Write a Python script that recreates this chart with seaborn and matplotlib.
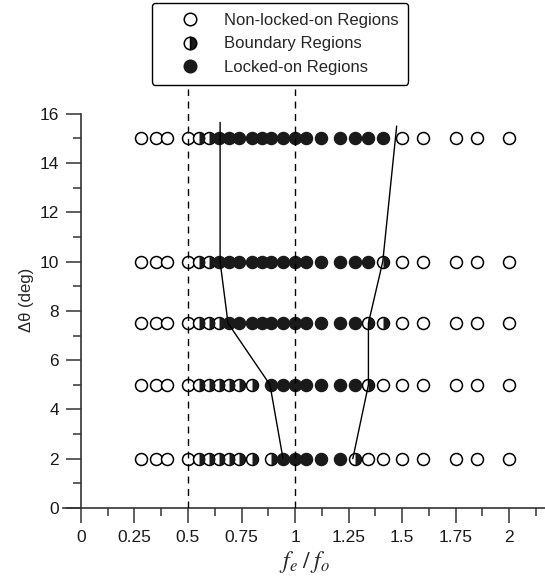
import matplotlib
matplotlib.use("Agg")
import matplotlib.pyplot as plt
from matplotlib.markers import MarkerStyle
from matplotlib.lines import Line2D
from matplotlib.ticker import FixedLocator, FuncFormatter
import numpy as np
import pandas as pd
import seaborn as sns

# frequency ratio positions tested (fe/fo)
freq_ratio = [0.28, 0.35, 0.40, 0.50, 0.55, 0.60, 0.645, 0.69, 0.74, 0.80, 0.845, 0.89,
              0.945, 1.0, 1.05, 1.12, 1.21, 1.28, 1.34, 1.41, 1.5, 1.6, 1.75, 1.85, 2.0]
# angle rows (deg)
delta_theta = [2, 5, 7.5, 10, 15]
# N = non-locked-on, B = boundary, L = locked-on, - = not tested
row_states = [
    "NNNNBBBBBB-BLLLLLBNNNNNNN",   # 2 deg
    "NNNNBBBBBB-LLLLLLLBNNNNNN",   # 5 deg
    "NNNNBBBLLLLLLLLLLLBBNNNNN",   # 7.5 deg
    "NNNNBBLLLLLLLLLLLLLBNNNNN",   # 10 deg
    "NNNNBBLLLLLLLLLLLLLLNNNNN",   # 15 deg
]
# lock-on boundary curves
left_bound_x = [0.944, 0.883, 0.687, 0.65, 0.65]
left_bound_y = [2, 5, 7.5, 10, 15.65]
right_bound_x = [1.27, 1.343, 1.343, 1.41, 1.475]
right_bound_y = [2, 5, 7.5, 10, 15.5]
dashed_x = [0.5, 1.0]

records = []
for ang, states in zip(delta_theta, row_states):
    for fr, st in zip(freq_ratio, states):
        if st != "-":
            records.append({"ratio": fr, "angle": ang, "state": st})
df = pd.DataFrame(records)

sns.set_style("ticks")
plt.rcParams["font.family"] = ["Liberation Sans", "DejaVu Sans"]
plt.rcParams["mathtext.fontset"] = "stix"

fig = plt.figure(figsize=(5.45, 5.79), dpi=100)
ax = fig.add_axes([63 / 545, 71 / 579, 482 / 545, 419.4 / 579])

ms = 74
edge_lw = 1.1
opn = df[df.state == "N"]
bnd = df[df.state == "B"]
lck = df[df.state == "L"]

sns.scatterplot(data=opn, x="ratio", y="angle", ax=ax, s=ms, color="white",
                edgecolor="black", linewidth=edge_lw, zorder=3, legend=False)
sns.scatterplot(data=bnd, x="ratio", y="angle", ax=ax, s=ms, color="white",
                edgecolor="black", linewidth=edge_lw, zorder=3, legend=False)
# right half filled for the boundary points
ax.scatter(bnd["ratio"], bnd["angle"], s=ms, c="#1a1a1a",
           marker=MarkerStyle("o", fillstyle="right"), linewidths=0, zorder=4)
sns.scatterplot(data=lck, x="ratio", y="angle", ax=ax, s=ms, color="#1a1a1a",
                edgecolor="#1a1a1a", linewidth=edge_lw, zorder=3, legend=False)

for xb, yb in [(left_bound_x, left_bound_y), (right_bound_x, right_bound_y)]:
    sns.lineplot(x=xb, y=yb, sort=False, estimator=None, ax=ax, color="black",
                 lw=1.0, zorder=5)
for xd in dashed_x:
    ax.axvline(xd, color="black", lw=1.0, dashes=(5, 4), zorder=5)

ax.set_xlim(-0.084, 2.168)
ax.set_ylim(0, 17.02)

ax.spines["left"].set_position(("data", 0))
ax.spines["left"].set_bounds(0, 16)
ax.spines["top"].set_visible(False)
ax.spines["right"].set_visible(False)
for sp in ("left", "bottom"):
    ax.spines[sp].set_linewidth(1.2)
    ax.spines[sp].set_color("#333333")

ax.xaxis.set_major_locator(FixedLocator(np.arange(0, 2.01, 0.25)))
ax.xaxis.set_minor_locator(FixedLocator(np.arange(0.125, 2.2, 0.25)))
ax.xaxis.set_major_formatter(FuncFormatter(lambda v, p: f"{v:g}"))
ax.yaxis.set_major_locator(FixedLocator(np.arange(0, 17, 2)))
ax.yaxis.set_minor_locator(FixedLocator(np.arange(1, 16, 2)))
ax.tick_params(which="major", direction="out", length=11, width=1.1,
               color="#333333", labelsize=12.5, labelcolor="#1a1a1a", pad=5)
ax.tick_params(which="minor", direction="out", length=6, width=1.1, color="#333333")

ax.set_xlabel(r"$f_e\;/\;f_o$", fontsize=17, labelpad=3)
ax.set_ylabel("Δθ (deg)", fontsize=12, labelpad=4)
ax.yaxis.label.set_position((0, 0.496))

handles = [
    Line2D([], [], ls="none", marker="o", ms=9, mfc="white", mec="black", mew=edge_lw),
    Line2D([], [], ls="none", marker="o", ms=9, fillstyle="right", mfc="#1a1a1a",
           mfcalt="white", mec="black", mew=edge_lw),
    Line2D([], [], ls="none", marker="o", ms=9, mfc="#1a1a1a", mec="#1a1a1a", mew=edge_lw),
]
labels = ["Non-locked-on Regions", "Boundary Regions", "Locked-on Regions"]
leg = fig.legend(handles, labels, loc="upper center", bbox_to_anchor=(280 / 545, 1 - 3 / 579),
                 fontsize=12, numpoints=1, handlelength=3.4, handletextpad=0.3,
                 borderpad=0.6, labelspacing=0.5, borderaxespad=0,
                 fancybox=True, framealpha=1)
leg.get_frame().set_edgecolor("black")
leg.get_frame().set_linewidth(1.0)

fig.savefig("out.png", dpi=100)
